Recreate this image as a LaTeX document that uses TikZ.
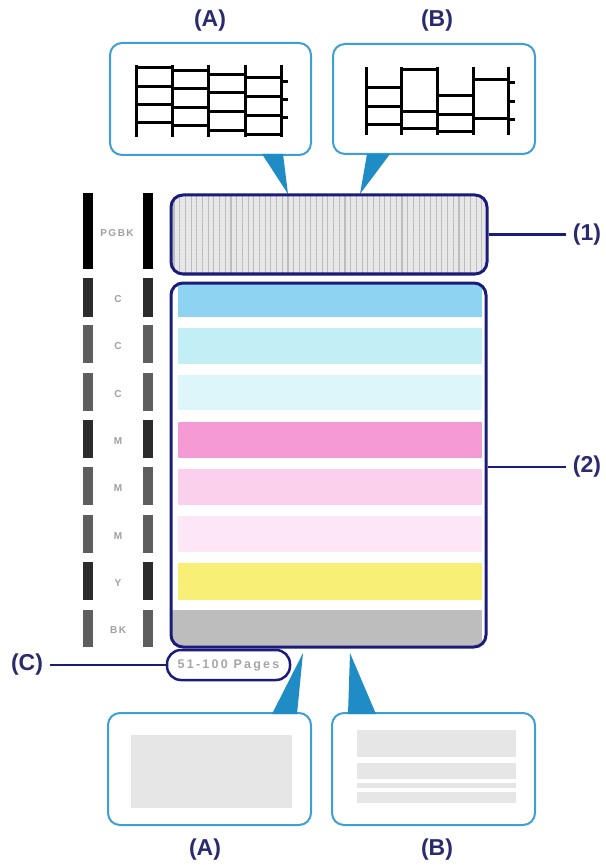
\documentclass[tikz,border=0pt]{standalone}
\usepackage{fontspec}
\setmainfont{Liberation Sans}
\newfontfamily\spacedfont[LetterSpace=15]{Liberation Sans}
\newfontfamily\pagesfont[LetterSpace=18]{Liberation Sans}
\usetikzlibrary{calc}
\definecolor{navy}{HTML}{1B1B7A}
\definecolor{labnavy}{HTML}{2A2A6E}
\definecolor{callblue}{HTML}{3D9FD3}
\definecolor{ptrblue}{HTML}{1F8CC6}
\definecolor{gridbg}{HTML}{E8E8E8}
\definecolor{gridln}{HTML}{BDBDBD}
\definecolor{bandA}{HTML}{8ED3F2}
\definecolor{bandB}{HTML}{C2EEF6}
\definecolor{bandC}{HTML}{DDF6FA}
\definecolor{bandD}{HTML}{F59BD3}
\definecolor{bandE}{HTML}{FBD0EC}
\definecolor{bandF}{HTML}{FDE6F5}
\definecolor{bandG}{HTML}{F8F076}
\definecolor{bandH}{HTML}{BDBDBD}
\definecolor{bardark}{HTML}{2C2C2C}
\definecolor{barmid}{HTML}{5E5E5E}
\definecolor{paleg}{HTML}{E6E6E6}
\begin{document}
\begin{tikzpicture}[x=1pt,y=-1pt,
  lab/.style={font=\fontsize{23}{23}\selectfont\bfseries, text=labnavy, inner sep=0pt},
  callout/.style={draw=callblue, line width=2pt, rounded corners=12pt, inner sep=0pt},
  navybox/.style={draw=navy, line width=3pt, rounded corners=12pt, inner sep=0pt},
  conn/.style={draw=navy, line width=2.2pt},
  ptr/.style={fill=ptrblue},
  pat/.style={draw=black, line width=3pt},
  rowlab/.style={font=\spacedfont\bfseries\fontsize{10}{10}\selectfont, text=gray!75, inner sep=0pt}]
\useasboundingbox (0,0) rectangle (605,866);

% ---------- labels ----------
\node[lab] (tA) at (210,21) {(A)};
\node[lab] (tB) at (437,21) {(B)};
\node[lab] (l1) at (587,234.5) {(1)};
\node[lab] (l2) at (587,467) {(2)};
\node[lab] (lC) at (27,665) {(C)};
\node[lab] (bA) at (205,850) {(A)};
\node[lab] (bB) at (437,850) {(B)};

% ---------- top callouts ----------
\node[callout, minimum width=201pt, minimum height=112pt] (cA) at (210.5,99) {};
\node[callout, minimum width=202pt, minimum height=110pt] (cB) at (434,99) {};

% pattern A
\foreach \x in {136,172,208,245,281} \draw[pat] (\x,65) -- (\x,137);
\foreach \y in {68,87,105,123} \draw[pat] (136,\y) -- (172,\y);
\foreach \y in {71,89,108,126} \draw[pat] (172,\y) -- (208,\y);
\foreach \y in {75,93,112,131} \draw[pat] (208,\y) -- (245,\y);
\foreach \y in {78,97,116,135} \draw[pat] (245,\y) -- (281,\y);
\foreach \y in {82,100,118} \draw[pat] (281,\y) -- (288,\y);

% pattern B
\foreach \x in {366,401,437,473,508} \draw[pat] (\x,67) -- (\x,135);
\foreach \y in {88,107,125} \draw[pat] (366,\y) -- (401,\y);
\foreach \y in {70,112,129} \draw[pat] (401,\y) -- (437,\y);
\foreach \y in {96,115,132} \draw[pat] (437,\y) -- (473,\y);
\foreach \y in {80,119} \draw[pat] (473,\y) -- (508,\y);
\foreach \y in {83,102,120} \draw[pat] (508,\y) -- (515,\y);

% top pointers
\fill[ptr] (262,154) -- (283,154) -- (288,194) -- cycle;
\fill[ptr] (367,154) -- (390,154) -- (360,194) -- cycle;

% ---------- PGBK box ----------
\begin{scope}
  \clip[rounded corners=12pt] (171,195) rectangle (487,274);
  \fill[gridbg] (171,195) rectangle (487,274);
  \foreach \y in {196,199,...,274} \draw[gray!20, line width=0.6pt] (171,\y) -- (487,\y);
  \foreach \x in {174,179.7,...,487} \draw[gridln, line width=1.1pt] (\x,195) -- (\x,274);
\end{scope}
\node[navybox, minimum width=316pt, minimum height=79pt] (pg) at (329,234.5) {};

% ---------- colour bands box ----------
\begin{scope}
  \clip[rounded corners=12pt] (171,283) rectangle (486,647);
  \fill[bandA] (178,283) rectangle (482,317);
  \fill[bandB] (178,328) rectangle (482,364);
  \fill[bandC] (178,375) rectangle (482,410);
  \fill[bandD] (178,422) rectangle (482,458);
  \fill[bandE] (178,469) rectangle (482,505);
  \fill[bandF] (178,516) rectangle (482,552);
  \fill[bandG] (178,563) rectangle (482,600);
  \fill[bandH] (171,610) rectangle (482,647);
\end{scope}
\node[navybox, minimum width=315pt, minimum height=364pt] (mb) at (328.5,465) {};

% ---------- left nozzle bars ----------
\fill[black] (83,193) rectangle (93,269);
\fill[black] (143,193) rectangle (153,269);
\node[rowlab] (rPG) at (117,233) {PGBK};
\foreach \t/\b/\c/\txt/\nm in {278/317/bardark/C/r1, 325/363/barmid/C/r2, 373/411/barmid/C/r3,
    420/458/bardark/M/r4, 467/505/barmid/M/r5, 515/553/barmid/M/r6,
    562/600/bardark/Y/r7, 610/647/barmid/BK/r8} {
  \fill[\c] (83,\t) rectangle (93,\b);
  \fill[\c] (143,\t) rectangle (153,\b);
  \node[rowlab] (\nm) at (118,{(\t+\b)/2+2}) {\txt};
}

% ---------- pages pill ----------
\node[draw=navy, line width=2.5pt, rounded corners=14pt, fill=white, minimum width=123pt, minimum height=30pt, inner sep=0pt,
  font=\pagesfont\bfseries\fontsize{12.5}{12.5}\selectfont, text=gray!70] (pp) at (228.5,665) {51-100 Pages};

% ---------- connectors ----------
\draw[conn] (pg.east) -- ([xshift=-7pt]l1.west);
\draw[conn] (mb.east |- l2.west) -- ([xshift=-7pt]l2.west);
\draw[conn] ([xshift=7pt]lC.east) -- (pp.west);

% ---------- bottom callouts ----------
\node[callout, minimum width=203pt, minimum height=112pt] (dA) at (209.5,769) {};
\node[callout, minimum width=203pt, minimum height=112pt] (dB) at (433.5,769) {};
\fill[paleg] (131,735) rectangle (292,808);
\fill[paleg] (357,730) rectangle (516,757);
\fill[paleg] (357,763) rectangle (516,779);
\fill[paleg] (357,783) rectangle (516,788);
\fill[paleg] (357,792) rectangle (516,803);

% bottom pointers
\fill[ptr] (272,714) -- (297,714) -- (303,653) -- cycle;
\fill[ptr] (348,714) -- (376,714) -- (350,653) -- cycle;
\end{tikzpicture}
\end{document}
